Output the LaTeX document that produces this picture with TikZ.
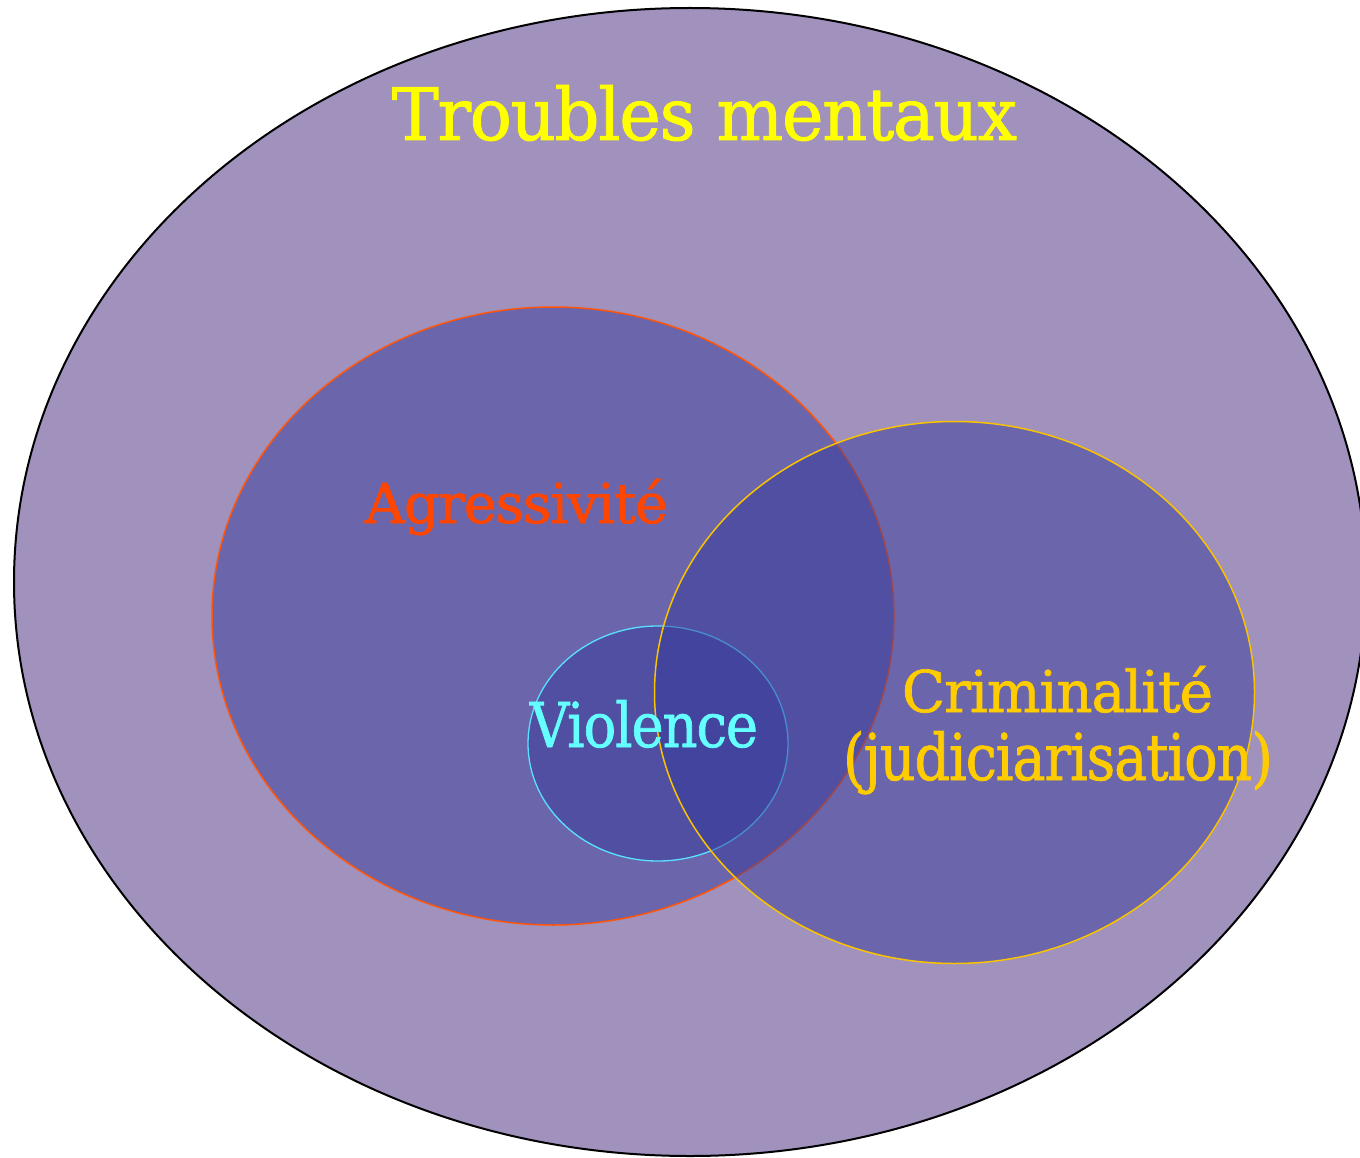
\documentclass[tikz,border=0pt]{standalone}
\usepackage{fontspec}
\setmainfont{DejaVu Serif}
\newfontfamily\lblfont{DejaVu Serif}[FakeBold=1.2, LetterSpace=-2]
\usepackage{graphicx}

\definecolor{mindbg}{RGB}{160,145,189}
\definecolor{setfill}{RGB}{55,58,155}
\definecolor{aggrline}{RGB}{255,85,10}
\definecolor{aggrtext}{RGB}{255,70,0}
\definecolor{crimline}{RGB}{250,195,0}
\definecolor{crimtext}{RGB}{255,204,0}
\definecolor{violline}{RGB}{90,225,255}
\definecolor{violtext}{RGB}{100,255,255}
\definecolor{titletext}{RGB}{255,255,0}

% set a label at a given printed width and height above the baseline
\newcommand{\fitwh}[3]{\resizebox{#1pt}{#2pt}{\lblfont #3}}

\begin{document}
\begin{tikzpicture}[x=1pt,y=-1pt,
    setshape/.style={fill=setfill, fill opacity=0.5, line width=1.5pt},
    lbl/.style={inner sep=0pt, anchor=base}]
  \useasboundingbox (0,0) rectangle (1360,1158);
  \begin{scope}
    \clip (0,0) rectangle (1360,1158);

    % overall set: mental disorders
    \draw[fill=mindbg, line width=2pt, draw=black] (690,582) ellipse [x radius=676, y radius=574];

    % aggressiveness
    \draw[setshape, draw=aggrline] (553,616) ellipse [x radius=341, y radius=309];

    % violence
    \draw[setshape, draw=violline, line width=1.3pt] (658,743.5) ellipse [x radius=130, y radius=117.5];

    % criminality
    \draw[setshape, draw=crimline] (954.5,692.5) ellipse [x radius=300, y radius=271];
  \end{scope}

  \node[lbl, text=titletext] (title) at (704.5,140) {\fitwh{625}{55}{Troubles mentaux}};
  \node[lbl, text=aggrtext] (aggr) at (516.5,523) {\fitwh{303}{44}{Agressivité}};
  \node[lbl, text=violtext] (violence) at (644,747) {\fitwh{228}{47}{Violence}};
  \node[lbl, text=crimtext] (crim1) at (1057.5,712) {\fitwh{311}{46}{Criminalité}};
  \node[lbl, text=crimtext] (crim2) at (1058,780) {\fitwh{430}{49}{(judiciarisation)}};
\end{tikzpicture}
\end{document}
